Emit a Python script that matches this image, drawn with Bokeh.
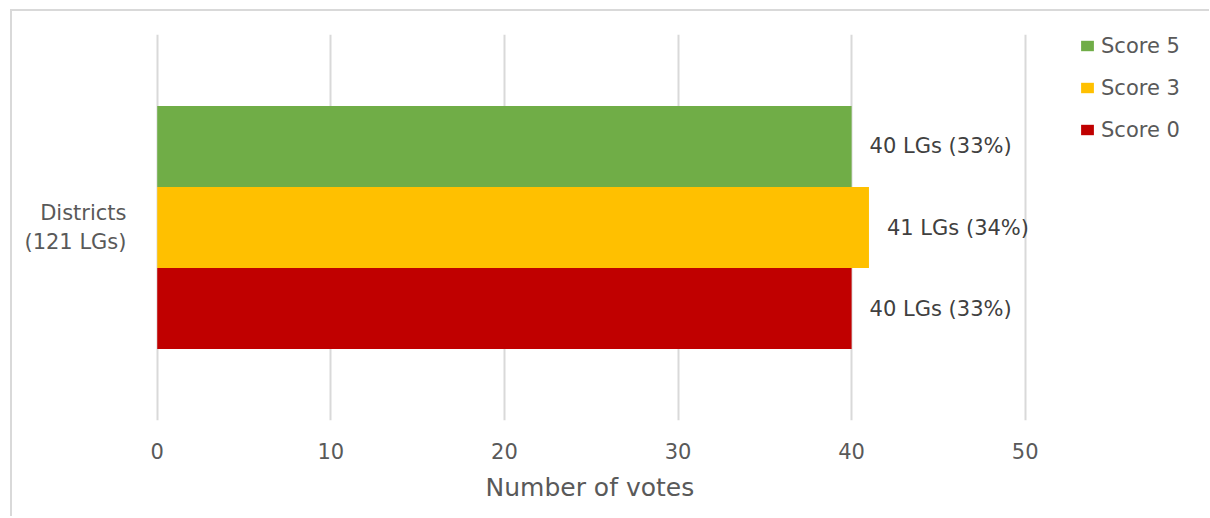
from bokeh.plotting import figure
from bokeh.models import (FactorRange, Range1d, FixedTicker, ColumnDataSource,
                          Legend, LegendItem, LabelSet, Title)
from bokeh.core.properties import value
from bokeh.transform import dodge
from bokeh.embed import file_html
from bokeh.resources import INLINE

# ---- data ----
groups = ["Districts\n(121 LGs)"]
series = ["Score 5", "Score 3", "Score 0"]
votes = [40, 41, 40]
bar_labels = ["40 LGs (33%)", "41 LGs (34%)", "40 LGs (33%)"]
colors = ["#70ad47", "#ffc000", "#c00000"]
x_ticks = [0, 10, 20, 30, 40, 50]
x_title = "Number of votes"

FONT = "DejaVu Sans"
TXT = "#595959"

p = figure(frame_width=1040, frame_height=386,
           y_range=FactorRange(*groups, range_padding=0),
           x_range=Range1d(-0.1, 59.81),
           output_backend="svg", toolbar_location=None,
           min_border_left=143, min_border_top=23,
           min_border_right=14, min_border_bottom=96)
p.styles = {"border-left": "2px solid #d9d9d9", "border-top": "2px solid #d9d9d9",
            "margin-left": "10px", "margin-top": "9px"}

offsets = [0.21, 0.0, -0.21]
items = []
for i, s in enumerate(series):
    src = ColumnDataSource(dict(group=[groups[0]], votes=[votes[i]], label=[bar_labels[i]]))
    r = p.hbar(y=dodge("group", offsets[i], range=p.y_range), left=0, right="votes",
               height=0.21, fill_color=colors[i], line_color=None, source=src)
    items.append(LegendItem(label=s, renderers=[r]))
    ls = LabelSet(x="votes", y=dodge("group", offsets[i], range=p.y_range), text="label",
                  x_offset=18, text_align="left", text_baseline="middle",
                  text_font_size="21px", text_color="#404040", text_font=value(FONT),
                  source=src)
    p.add_layout(ls)

legend = Legend(items=items, location=(924, 278), glyph_width=16, glyph_height=13,
                label_height=25, spacing=17, padding=0, margin=0,
                border_line_color=None, background_fill_alpha=0, label_standoff=6,
                label_text_font_size="21px", label_text_color=TXT, label_text_font=FONT)
p.add_layout(legend)

# axes
p.xaxis.ticker = FixedTicker(ticks=x_ticks)
for ax in (p.xaxis, p.yaxis):
    ax.axis_line_color = None
    ax.major_tick_line_color = None
    ax.minor_tick_line_color = None
    ax.major_label_text_font = FONT
    ax.major_label_text_font_size = "21px"
    ax.major_label_text_color = TXT
p.xaxis.major_label_standoff = 16
p.yaxis.major_label_standoff = 23

p.add_layout(Title(text=x_title, align="left", offset=330, standoff=18,
                   text_font=FONT, text_font_size="25px", text_font_style="normal",
                   text_color=TXT), "below")

p.xgrid.grid_line_color = "#d9d9d9"
p.xgrid.grid_line_width = 2
p.ygrid.grid_line_color = None
p.outline_line_color = None

open("out.html", "w").write(file_html(p, INLINE))
